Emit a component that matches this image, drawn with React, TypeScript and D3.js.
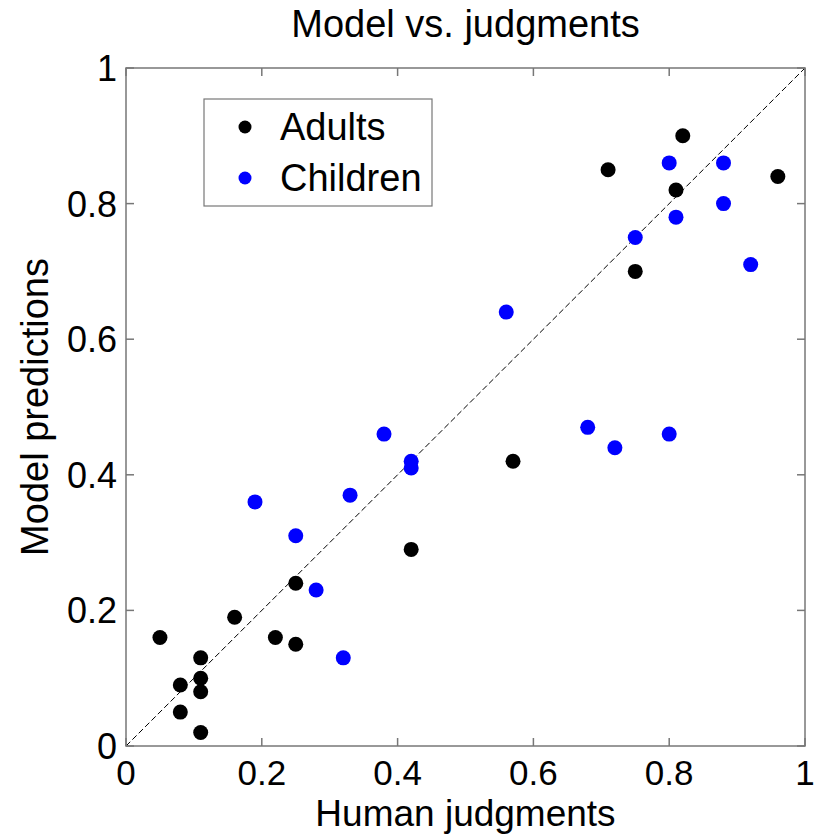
import React, { useEffect, useRef } from 'react';
import * as d3 from 'd3';

// Adults: human judgment vs model prediction
const adultsX = [0.05, 0.08, 0.08, 0.11, 0.11, 0.11, 0.11, 0.16, 0.22, 0.25, 0.25, 0.42, 0.57, 0.71, 0.75, 0.81, 0.82, 0.96];
const adultsY = [0.16, 0.09, 0.05, 0.13, 0.10, 0.08, 0.02, 0.19, 0.16, 0.24, 0.15, 0.29, 0.42, 0.85, 0.70, 0.82, 0.90, 0.84];

// Children
const childrenX = [0.19, 0.25, 0.28, 0.32, 0.33, 0.38, 0.42, 0.42, 0.56, 0.68, 0.72, 0.80, 0.75, 0.80, 0.81, 0.88, 0.88, 0.92];
const childrenY = [0.36, 0.31, 0.23, 0.13, 0.37, 0.46, 0.42, 0.41, 0.64, 0.47, 0.44, 0.46, 0.75, 0.86, 0.78, 0.86, 0.80, 0.71];

const ticks = [0, 0.2, 0.4, 0.6, 0.8, 1];
const tickLabels = ['0', '0.2', '0.4', '0.6', '0.8', '1'];

const App = () => {
  const ref = useRef<SVGSVGElement>(null);

  useEffect(() => {
    const width = 829;
    const height = 837;
    const left = 126, right = 805, top = 68, bottom = 746;
    const font = '"Liberation Sans", Arial, sans-serif';

    const svg = d3.select(ref.current);
    svg.selectAll('*').remove();

    const x = d3.scaleLinear().domain([0, 1]).range([left, right]);
    const y = d3.scaleLinear().domain([0, 1]).range([bottom, top]);

    svg.append('rect').attr('width', width).attr('height', height).attr('fill', 'white');

    // identity line
    svg.append('line')
      .attr('x1', x(0)).attr('y1', y(0))
      .attr('x2', x(1)).attr('y2', y(1))
      .attr('stroke', '#000').attr('stroke-width', 1)
      .attr('stroke-dasharray', '6,3');

    // points
    const pts = (xs: number[], ys: number[], color: string) => {
      svg.append('g').selectAll('circle')
        .data(xs.map((v, i) => [v, ys[i]]))
        .join('circle')
        .attr('cx', d => x(d[0]))
        .attr('cy', d => y(d[1]))
        .attr('r', 7.5)
        .attr('fill', color);
    };
    pts(adultsX, adultsY, '#000');
    pts(childrenX, childrenY, '#0000ff');

    // axes box
    const axisColor = '#777';
    svg.append('rect')
      .attr('x', left).attr('y', top)
      .attr('width', right - left).attr('height', bottom - top)
      .attr('fill', 'none').attr('stroke', axisColor).attr('stroke-width', 1.5);

    const tickLen = 8;
    const tg = svg.append('g').attr('stroke', axisColor).attr('stroke-width', 1.5);
    ticks.forEach(t => {
      tg.append('line').attr('x1', x(t)).attr('x2', x(t)).attr('y1', bottom).attr('y2', bottom - tickLen);
      tg.append('line').attr('x1', x(t)).attr('x2', x(t)).attr('y1', top).attr('y2', top + tickLen);
      tg.append('line').attr('x1', left).attr('x2', left + tickLen).attr('y1', y(t)).attr('y2', y(t));
      tg.append('line').attr('x1', right).attr('x2', right - tickLen).attr('y1', y(t)).attr('y2', y(t));
    });

    const txt = svg.append('g').attr('font-family', font).attr('fill', '#000');

    ticks.forEach((t, i) => {
      txt.append('text')
        .attr('x', x(t)).attr('y', 785)
        .attr('text-anchor', 'middle')
        .attr('font-size', 35)
        .text(tickLabels[i]);
      txt.append('text')
        .attr('x', 117).attr('y', y(t) + 13)
        .attr('text-anchor', 'end')
        .attr('font-size', 36)
        .text(tickLabels[i]);
    });

    txt.append('text')
      .attr('x', (left + right) / 2).attr('y', 37)
      .attr('text-anchor', 'middle').attr('font-size', 38)
      .text('Model vs. judgments');

    txt.append('text')
      .attr('x', (left + right) / 2).attr('y', 826)
      .attr('text-anchor', 'middle').attr('font-size', 37)
      .text('Human judgments');

    txt.append('text')
      .attr('transform', `translate(48, 407) rotate(-90)`)
      .attr('text-anchor', 'middle').attr('font-size', 38)
      .text('Model predictions');

    // legend
    const lg = svg.append('g');
    lg.append('rect')
      .attr('x', 204).attr('y', 99).attr('width', 228).attr('height', 107)
      .attr('fill', 'white').attr('stroke', axisColor).attr('stroke-width', 1.2);
    [['Adults', '#000', 127], ['Children', '#0000ff', 178]].forEach(([label, color, cy]) => {
      lg.append('circle').attr('cx', 245).attr('cy', cy as number).attr('r', 6.5).attr('fill', color as string);
      lg.append('text')
        .attr('x', 280).attr('y', (cy as number) + 13)
        .attr('font-family', font).attr('font-size', 38)
        .text(label as string);
    });
  }, []);

  return <svg ref={ref} width={829} height={837} style={{ position: 'absolute', left: 0, top: 0 }} />;
};

export default App;
